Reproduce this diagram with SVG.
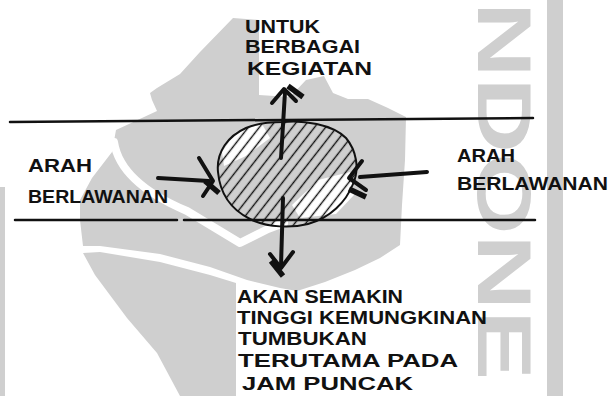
<svg xmlns="http://www.w3.org/2000/svg" width="612" height="396" viewBox="0 0 612 396">
<style>
.wm{fill:#cfcfcf;stroke:none}
.wmw{fill:#fff;stroke:none}
.wmband{fill:none;stroke:#fff;stroke-width:8;stroke-linecap:round;stroke-linejoin:round}
.ink{fill:none;stroke:#111;stroke-linecap:round;stroke-linejoin:round}
.road{stroke-width:2.5}
.shaft{stroke-width:4}
.head{stroke-width:4}
.bone{stroke-width:5.5;stroke-linecap:butt}
.t{font-family:"Liberation Sans",Arial,sans-serif;font-weight:bold;font-size:18px;fill:#111}
.wmt{font-family:"Liberation Sans",Arial,sans-serif;font-weight:bold;font-size:76px;fill:#cfcfcf}
</style>
<defs>
<pattern id="hatch" patternUnits="userSpaceOnUse" width="20" height="8.7" patternTransform="rotate(-52)">
<line x1="0" y1="4.35" x2="20" y2="4.35" stroke="#111" stroke-width="1.4"/>
</pattern>
</defs>
<rect width="612" height="396" fill="#fff"/>
<g id="watermark">
<path class="wm" d="M150,93 L157,88 L180,74 L200,52 L233,18 L259,20 L259,95 L290,97 L306,80 L324,76 L333,93 L348,99 L368,99 L388,108 L406,117 L405,160 L402,205 L400,245 L380,258 L355,270 L325,282 L297,291 L280,288 L247,280 L210,267 L160,254 L100,246 L83,246 L80,220 L80,200 L92,178 L112,152 L116,130 L157,111 L152,100 Z"/>
<path class="wm" d="M83,253 L100,252 L160,262 L210,275 L236,283 L236,396 L180,396 L157,353 L127,318 L95,275 Z"/>
<rect class="wm" x="0" y="187" width="5" height="209"/>
<rect class="wm" x="547" y="0" width="16" height="396"/>
<path class="wmband" d="M114,142 C118,168 142,192 187,211 L240,243 L268,229 L284,223"/>
<path class="wmw" d="M222,152 L236,132 L262,124 L270,138 L246,156 L224,166 Z"/>
<path class="wmw" d="M292,205 L318,180 L350,172 L354,195 L336,214 L300,218 Z"/>
<text class="wmt" transform="translate(478,0) rotate(90)" x="2" y="0" textLength="378" lengthAdjust="spacingAndGlyphs">NDONE</text>
</g>
<g id="road">
<path class="ink road" d="M10,122 L533,118"/>
<path class="ink road" d="M15,220 L177,220 M184,220 L535,220"/>
</g>
<g id="node-junction">
<path d="M283,122 C303,120 332,124 346,138 C356,150 360,168 353,184 C346,202 330,218 308,224 C292,228 268,228 250,219 C232,210 220,194 218,172 C216,152 228,136 246,128 C258,123 270,122 283,122 Z" fill="url(#hatch)" stroke="#111" stroke-width="2"/>
</g>
<g id="connectors">
<path class="ink shaft" d="M281,158 L285,92"/>
<path class="ink head" d="M272,103 L284,89 L296,101"/>
<path class="ink bone" d="M288,86 L303,97"/>
<path class="ink shaft" d="M283,198 L281,266"/>
<path class="ink head" d="M270,254 L281,268 L293,252"/>
<path class="ink bone" d="M271,261 L283,276"/>
<path class="ink shaft" d="M158,178 L209,181"/>
<path class="ink head" d="M199,158 L213,181 L203,196"/>
<path class="ink bone" d="M205,181 L219,193"/>
<path class="ink shaft" d="M427,172 L360,177"/>
<path class="ink head" d="M362,161 L349,178 L366,190"/>
<path class="ink bone" d="M349,189 L366,197"/>
</g>
<g id="label-top">
<text class="t" x="245" y="33" textLength="75" lengthAdjust="spacingAndGlyphs">UNTUK</text>
<text class="t" x="245" y="53" textLength="115" lengthAdjust="spacingAndGlyphs">BERBAGAI</text>
<text class="t" x="247" y="75" textLength="125" lengthAdjust="spacingAndGlyphs">KEGIATAN</text>
</g>
<g id="label-left">
<text class="t" x="28" y="172" textLength="64" lengthAdjust="spacingAndGlyphs">ARAH</text>
<text class="t" x="28" y="203" textLength="140" lengthAdjust="spacingAndGlyphs">BERLAWANAN</text>
</g>
<g id="label-right">
<text class="t" x="457" y="162" textLength="58" lengthAdjust="spacingAndGlyphs">ARAH</text>
<text class="t" x="457" y="190" textLength="151" lengthAdjust="spacingAndGlyphs">BERLAWANAN</text>
</g>
<g id="label-bottom">
<text class="t" x="237" y="303" textLength="166" lengthAdjust="spacingAndGlyphs">AKAN SEMAKIN</text>
<text class="t" x="237" y="324" textLength="250" lengthAdjust="spacingAndGlyphs">TINGGI KEMUNGKINAN</text>
<text class="t" x="238" y="345" textLength="129" lengthAdjust="spacingAndGlyphs">TUMBUKAN</text>
<text class="t" x="238" y="367" textLength="220" lengthAdjust="spacingAndGlyphs">TERUTAMA PADA</text>
<text class="t" x="242" y="390" textLength="171" lengthAdjust="spacingAndGlyphs">JAM PUNCAK</text>
</g>
</svg>
